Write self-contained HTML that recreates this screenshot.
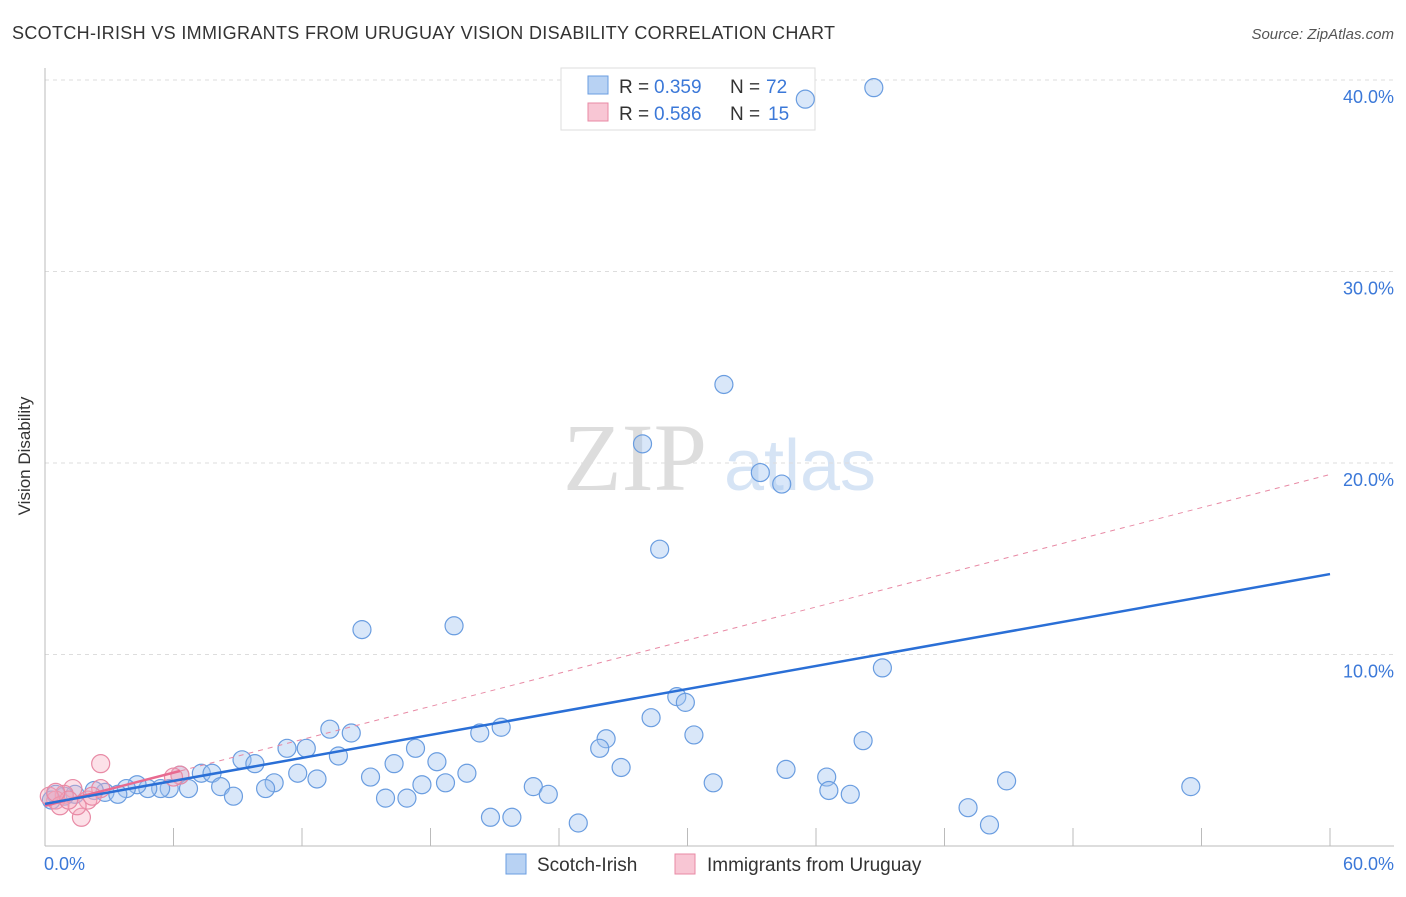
<!DOCTYPE html>
<html><head><meta charset="utf-8"><style>
body{margin:0;background:#fff;font-family:"Liberation Sans",sans-serif;}
</style></head><body>
<svg width="1406" height="892" xmlns="http://www.w3.org/2000/svg" font-family="Liberation Sans, sans-serif">
<text x="12" y="39" font-size="18" fill="#333" textLength="823">SCOTCH-IRISH VS IMMIGRANTS FROM URUGUAY VISION DISABILITY CORRELATION CHART</text>
<text x="1394" y="39" font-size="15" fill="#555" font-style="italic" text-anchor="end">Source: ZipAtlas.com</text>
<text x="30" y="456" font-size="17" fill="#333" transform="rotate(-90 30 456)" text-anchor="middle">Vision Disability</text>
<text x="635" y="490" font-size="96" fill="#ddd" font-family="Liberation Serif, serif" text-anchor="middle">ZIP</text>
<text x="800" y="490" font-size="72" fill="#d6e4f5" text-anchor="middle">atlas</text>
<g id="grid"></g>
<rect x="561" y="68" width="254" height="62" fill="#fff" stroke="#ddd"/>
<rect x="588" y="76" width="20" height="18" fill="#b8d2f3" stroke="#6a9de0"/>
<rect x="588" y="103" width="20" height="18" fill="#f8c6d4" stroke="#e88aa5"/>
<g font-size="19" fill="#333">
<text x="619" y="93">R =</text><text x="654" y="93" fill="#3b78d8">0.359</text><text x="730" y="93">N =</text><text x="766" y="93" fill="#3b78d8">72</text>
<text x="619" y="120">R =</text><text x="654" y="120" fill="#3b78d8">0.586</text><text x="730" y="120">N =</text><text x="768" y="120" fill="#3b78d8">15</text>
</g>
<g id="marks"></g>
<rect x="506" y="854" width="20" height="20" fill="#b8d2f3" stroke="#6a9de0"/>
<text x="537" y="871" font-size="19" fill="#333">Scotch-Irish</text>
<rect x="675" y="854" width="20" height="20" fill="#f8c6d4" stroke="#e88aa5"/>
<text x="707" y="871" font-size="19" fill="#333">Immigrants from Uruguay</text>
<text x="44" y="870" font-size="18" fill="#3b78d8">0.0%</text>
<text x="1394" y="870" font-size="18" fill="#3b78d8" text-anchor="end">60.0%</text>
</svg>
<script>
const yTicks=[10,20,30,40];
const yTickLabels=["10.0%","20.0%","30.0%","40.0%"];
const blueX=[35.5,38.7,31.7,27.9,33.4,34.4,28.7,14.8,19.1,39.1,29.5,29.9,28.3,13.3,21.3,20.3,14.3,30.3,38.2,26.2,25.9,11.3,12.2,17.3,13.7,9.2,9.8,18.3,16.3,26.9,34.6,11.8,19.7,6.3,7.3,7.8,15.2,12.7,36.5,44.9,10.7,22.8,31.2,53.5,17.6,18.7,8.2,10.3,6.7,5.8,5.4,4.8,4.3,3.8,23.5,36.6,37.6,8.8,15.9,16.9,2.8,3.4,2.3,1.4,0.9,0.5,43.1,20.8,21.8,24.9,44.1,0.3];
const blueY=[39.0,39.6,24.1,21.0,19.5,18.9,15.5,11.3,11.5,9.3,7.8,7.5,6.7,6.1,6.2,5.9,5.9,5.8,5.5,5.6,5.1,5.1,5.1,5.1,4.7,4.5,4.3,4.4,4.3,4.1,4.0,3.8,3.8,3.7,3.8,3.8,3.6,3.5,3.6,3.4,3.3,3.1,3.3,3.1,3.2,3.3,3.1,3.0,3.0,3.0,3.0,3.0,3.2,3.0,2.7,2.9,2.7,2.6,2.5,2.5,2.8,2.7,2.9,2.7,2.6,2.7,2.0,1.5,1.5,1.2,1.1,2.4];
const pinkX=[2.6,2.6,6.3,6.0,1.7,1.3,0.9,0.5,0.2,0.7,2.0,1.5,1.1,2.2,0.5];
const pinkY=[4.3,3.0,3.7,3.6,1.5,3.0,2.7,2.4,2.6,2.1,2.4,2.1,2.4,2.6,2.8];
const blueTrend=[2.2,14.2];
const pinkTrend=[2.1,19.4];
const xMax=60;
const sx=v=>45+v*(1330-45)/60;
const sy=v=>846-v*19.15;
const NS="http://www.w3.org/2000/svg";
const grid=document.getElementById('grid'),marks=document.getElementById('marks');
function mk(tag,attrs,parent){const e=document.createElementNS(NS,tag);for(const k in attrs)e.setAttribute(k,attrs[k]);parent.appendChild(e);return e;}
yTicks.forEach((t,i)=>{
  const l=mk('line',{x1:45,x2:1394,y1:sy(t),y2:sy(t),stroke:'#ddd','stroke-dasharray':'4,4'},grid);
  
  
  const tx=mk('text',{x:1394,y:sy(t)+23,'font-size':18,fill:'#3b78d8','text-anchor':'end'},grid);
  tx.textContent=yTickLabels[i];
  
  
});
let ax=mk('line',{x1:45,x2:45,y1:68,y2:846,stroke:'#bbb'},grid);


ax=mk('line',{x1:45,x2:1394,y1:846,y2:846,stroke:'#bbb'},grid);


for(let k=1;k<=10;k++){const x=sx(k*6);
  const t=mk('line',{x1:x,x2:x,y1:828,y2:846,stroke:'#bbb'},grid);
  
  }
blueX.forEach((x,i)=>{
  const c=mk('circle',{cx:sx(x),cy:sy(blueY[i]),r:9,fill:'rgba(160,196,240,0.4)',stroke:'#6a9de0','stroke-width':1.2},marks);
  
  
});
pinkX.forEach((x,i)=>{
  const c=mk('circle',{cx:sx(x),cy:sy(pinkY[i]),r:9,fill:'rgba(245,170,190,0.35)',stroke:'#e88aa5','stroke-width':1.2},marks);
  
  
});
let ln=mk('line',{x1:sx(0),y1:sy(pinkTrend[0]),x2:sx(xMax),y2:sy(pinkTrend[1]),stroke:'#e88aa5','stroke-dasharray':'5,5','stroke-width':1},marks);


const pe=6.3;
ln=mk('line',{x1:sx(0),y1:sy(pinkTrend[0]),x2:sx(pe),y2:sy(pinkTrend[0]+(pinkTrend[1]-pinkTrend[0])*pe/xMax),stroke:'#e86a90','stroke-width':2.5},marks);


ln=mk('line',{x1:sx(0),y1:sy(blueTrend[0]),x2:sx(xMax),y2:sy(blueTrend[1]),stroke:'#2a6fd6','stroke-width':2.5},marks);


</script>
</body></html>
